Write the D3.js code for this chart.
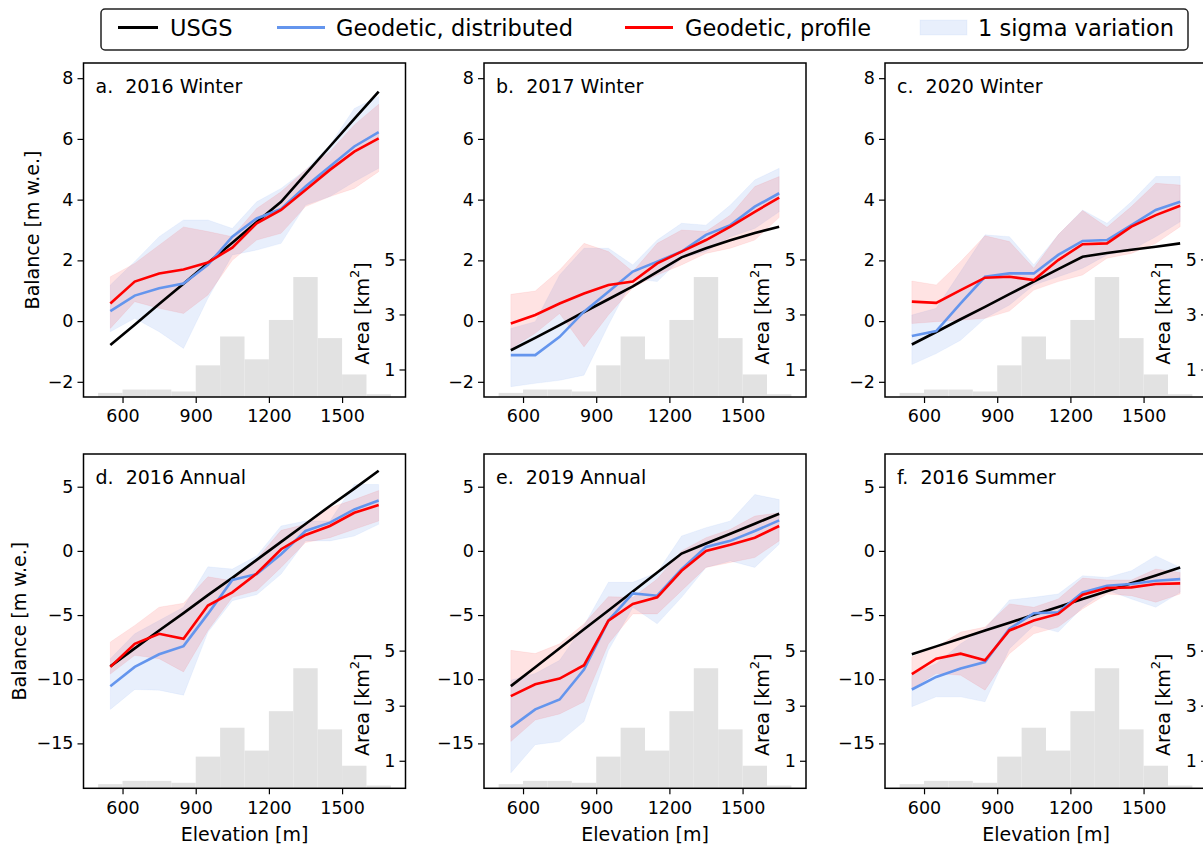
<!DOCTYPE html>
<html><head><meta charset="utf-8">
<script src="https://cdn.jsdelivr.net/npm/d3@7"></script>
<style>
body{margin:0;background:#fff}
text{font-family:"DejaVu Sans",sans-serif;fill:#000}
</style>
</head><body>
<svg id="c" width="1203" height="846"></svg>
<script>
// ---------- data ----------
const elevations = [550,650,750,850,950,1050,1150,1250,1350,1450,1550,1650];
const histEdges = [500,600,700,800,900,1000,1100,1200,1300,1400,1500,1600,1700];
const histArea = [0.15,0.27,0.27,0.2,1.15,2.2,1.37,2.8,4.36,2.14,0.82,0.1];
const topTicks = [-2,0,2,4,6,8];
const bottomTicks = [-15,-10,-5,0,5];
const xTicks = [600,900,1200,1500];
const areaTicks = [1,3,5];
const titles = ["a.  2016 Winter","b.  2017 Winter","c.  2020 Winter","d.  2016 Annual","e.  2019 Annual","f.  2016 Summer"];
const legendLabels = ["USGS","Geodetic, distributed","Geodetic, profile","1 sigma variation"];

const usgsA = [-0.79,-0.12,0.56,1.23,1.91,2.58,3.26,3.93,4.84,5.75,6.66,7.56];
const distA = [0.33,0.84,1.08,1.24,1.85,2.78,3.38,3.69,4.43,5.09,5.75,6.22];
const profA = [0.58,1.30,1.57,1.70,1.93,2.42,3.22,3.66,4.32,4.98,5.58,6.02];
const profHiA = [1.46,1.9,2.5,3.1,2.95,2.78,3.71,4.26,4.98,5.58,6.46,7.14];
const profLoA = [-0.24,0.64,0.42,0.25,0.86,2.0,2.67,2.89,3.77,4.1,4.37,4.92];
const distHiA = [1.19,1.96,2.78,3.33,3.33,3.05,3.93,4.37,4.98,5.8,7.0,7.4];
const distLoA = [-0.35,0.09,-0.35,-0.9,0.75,2.18,2.34,2.56,3.82,4.1,4.59,5.03];

const usgsB = [-0.96,-0.55,-0.13,0.30,0.72,1.14,1.62,2.1,2.4,2.66,2.9,3.11];
const distB = [-1.12,-1.12,-0.52,0.31,0.97,1.63,1.96,2.29,2.84,3.16,3.77,4.21];
const profB = [-0.08,0.2,0.58,0.91,1.19,1.3,1.9,2.29,2.67,3.11,3.6,4.07];
const profHiB = [0.88,0.99,1.68,2.56,2.29,1.63,2.56,3.0,2.95,3.49,4.43,4.76];
const profLoB = [-0.9,-0.4,0.25,-0.85,0.2,1.1,1.52,1.85,2.23,2.4,2.67,3.41];
const distHiB = [-0.24,-0.02,1.52,2.4,2.4,1.85,2.67,3.22,3.16,3.82,4.65,5.03];
const distLoB = [-2.16,-2.05,-1.95,-1.78,-0.13,1.4,1.3,2.07,2.29,2.78,3.05,3.6];

const usgsC = [-0.77,-0.36,0.06,0.47,0.89,1.3,1.71,2.12,2.24,2.35,2.45,2.56];
const distC = [-0.49,-0.33,0.58,1.46,1.57,1.57,2.18,2.64,2.67,3.16,3.66,3.93];
const profC = [0.64,0.6,1.02,1.43,1.46,1.35,2.01,2.53,2.56,3.11,3.49,3.8];
const profHiC = [1.32,1.19,1.96,2.81,2.62,1.74,2.84,3.64,3.09,3.77,4.54,4.48];
const profLoC = [-0.08,-0.02,0.03,0.09,0.33,1.02,1.3,1.52,2.07,2.23,2.56,3.11];
const distHiC = [0.2,0.42,1.63,2.84,2.78,1.85,2.84,3.66,3.22,3.93,4.76,4.76];
const distLoC = [-1.43,-1.07,-0.63,0.09,0.53,1.19,1.46,1.74,2.18,2.34,2.78,3.27];

const usgsD = [-9.0,-7.6,-6.2,-4.85,-3.45,-2.1,-0.7,0.7,2.1,3.5,4.85,6.25];
const distD = [-10.54,-9.04,-8.06,-7.42,-4.91,-2.27,-1.81,-0.26,1.55,2.2,3.23,3.93];
const profD = [-9.04,-7.24,-6.46,-6.85,-4.26,-3.23,-1.76,0.13,1.24,1.94,2.97,3.57];
const profHiD = [-7.1,-5.81,-4.39,-4.08,-2.02,-2.33,-0.65,1.6,2.07,3.36,4.0,4.7];
const profLoD = [-9.6,-8.14,-8.4,-9.43,-6.2,-3.62,-3.1,-1.29,0.65,1.03,1.68,2.33];
const distHiD = [-8.4,-6.46,-5.43,-4.39,-1.24,-1.42,-0.39,1.94,2.33,2.33,5.17,5.17];
const distLoD = [-12.35,-10.8,-10.85,-11.24,-6.33,-3.88,-3.41,-1.81,0.78,0.78,1.16,2.07];

const usgsE = [-10.54,-9.06,-7.59,-6.11,-4.64,-3.16,-1.69,-0.21,0.57,1.34,2.12,2.89];
const distE = [-13.75,-12.35,-11.58,-9.25,-5.43,-3.31,-3.49,-1.42,0.31,0.78,1.55,2.38];
const profE = [-11.32,-10.39,-9.95,-8.91,-5.43,-4.13,-3.62,-1.55,0,0.47,1.03,1.94];
const profHiE = [-7.75,-8.0,-7.24,-5.68,-3.57,-3.62,-2.2,0,1.03,1.68,2.71,2.97];
const profLoE = [-14.86,-13.18,-12.71,-11.76,-7.24,-4.91,-4.91,-3.1,-1.29,-0.9,-0.52,0.78];
const distHiE = [-10.08,-9.56,-8.53,-5.81,-2.45,-2.45,-1.68,1.16,1.81,2.33,4.39,4.0];
const distLoE = [-17.3,-15.1,-14.86,-13.3,-7.75,-4.39,-5.68,-3.62,-1.29,-0.78,-1.29,0.52];

const usgsF = [-8.06,-7.44,-6.83,-6.21,-5.6,-4.98,-4.37,-3.75,-3.14,-2.52,-1.91,-1.29];
const distF = [-10.8,-9.82,-9.17,-8.66,-6.07,-4.86,-4.78,-3.23,-2.71,-2.58,-2.33,-2.2];
const profF = [-9.61,-8.4,-8.01,-8.53,-6.2,-5.43,-4.91,-3.41,-2.89,-2.84,-2.58,-2.53];
const profHiF = [-8.27,-7.49,-6.33,-5.94,-4.13,-4.39,-3.75,-2.12,-2.27,-2.27,-1.42,-1.68];
const profLoF = [-10.72,-9.56,-9.69,-10.85,-8.01,-6.46,-5.94,-4.52,-3.36,-3.49,-4.0,-3.36];
const distHiF = [-9.56,-8.79,-7.24,-6.07,-3.82,-3.62,-3.36,-1.94,-2.07,-1.55,-0.39,-1.29];
const distLoF = [-12.14,-11.37,-11.37,-11.76,-7.62,-5.81,-6.33,-4.39,-3.05,-3.75,-4.39,-3.23];

// ---------- layout ----------
const panels = [
  {usgs:usgsA,dist:distA,prof:profA,pHi:profHiA,pLo:profLoA,dHi:distHiA,dLo:distLoA},
  {usgs:usgsB,dist:distB,prof:profB,pHi:profHiB,pLo:profLoB,dHi:distHiB,dLo:distLoB},
  {usgs:usgsC,dist:distC,prof:profC,pHi:profHiC,pLo:profLoC,dHi:distHiC,dLo:distLoC},
  {usgs:usgsD,dist:distD,prof:profD,pHi:profHiD,pLo:profLoD,dHi:distHiD,dLo:distLoD},
  {usgs:usgsE,dist:distE,prof:profE,pHi:profHiE,pLo:profLoE,dHi:distHiE,dLo:distLoE},
  {usgs:usgsF,dist:distF,prof:profF,pHi:profHiF,pLo:profLoF,dHi:distHiF,dLo:distLoF}
];
const lefts = [83.5, 484, 885];
const panelW = 322;
const rows = [{top:63,bottom:397,dom:[-2.5,8.5],ticks:topTicks},{top:454,bottom:788.3,dom:[-18.5,7.55],ticks:bottomTicks}];
const C = {usgs:"#000000", dist:"cornflowerblue", prof:"#ff0000", hist:"#e2e2e2"};

const svg = d3.select("#c");

panels.forEach((p,i)=>{
  const r = rows[Math.floor(i/3)], col = i%3;
  const L = lefts[col], R = L + panelW;
  const x = d3.scaleLinear().domain([440,1760]).range([L,R]);
  const y = d3.scaleLinear().domain(r.dom).range([r.bottom,r.top]);
  const mid = (r.top+r.bottom)/2;
  const a = d3.scaleLinear().domain([0,6.07]).range([r.bottom,mid]);
  const g = svg.append("g");

  // histogram
  g.selectAll("rect.h").data(histArea).join("rect")
    .attr("x",(d,k)=>x(histEdges[k])).attr("width",(d,k)=>x(histEdges[k+1])-x(histEdges[k]))
    .attr("y",d=>a(d)).attr("height",d=>a(0)-a(d)).attr("fill",C.hist);

  // bands
  const band = (lo,hi)=>d3.area().x((d,k)=>x(elevations[k])).y0((d,k)=>y(lo[k])).y1((d,k)=>y(hi[k]))(elevations);
  g.append("path").attr("d",band(p.dLo,p.dHi)).attr("fill",C.dist).attr("fill-opacity",0.15)
    .attr("stroke",C.dist).attr("stroke-opacity",0.08);
  g.append("path").attr("d",band(p.pLo,p.pHi)).attr("fill",C.prof).attr("fill-opacity",0.11)
    .attr("stroke",C.prof).attr("stroke-opacity",0.06);

  const line = vals=>d3.line().x((d,k)=>x(elevations[k])).y(d=>y(d))(vals);
  g.append("path").attr("d",line(p.usgs)).attr("fill","none").attr("stroke",C.usgs).attr("stroke-width",2.6);
  g.append("path").attr("d",line(p.dist)).attr("fill","none").attr("stroke",C.dist).attr("stroke-width",2.6);
  g.append("path").attr("d",line(p.prof)).attr("fill","none").attr("stroke",C.prof).attr("stroke-width",2.6);

  // frame
  g.append("rect").attr("x",L).attr("y",r.top).attr("width",panelW).attr("height",r.bottom-r.top)
    .attr("fill","none").attr("stroke","#000").attr("stroke-width",1.5);

  // y axis
  const ya = g.append("g").attr("transform",`translate(${L},0)`)
    .call(d3.axisLeft(y).tickValues(r.ticks).tickSize(6).tickPadding(4));
  ya.select(".domain").remove();
  ya.selectAll("text").style("font-size","17.5px").style("font-family","DejaVu Sans");
  ya.selectAll("line").attr("stroke-width",1.2);

  // x axis
  const xa = g.append("g").attr("transform",`translate(0,${r.bottom})`)
    .call(d3.axisBottom(x).tickValues(xTicks).tickSize(6).tickPadding(7).tickFormat(d3.format("d")));
  xa.select(".domain").remove();
  xa.selectAll("text").style("font-size","17.5px").style("font-family","DejaVu Sans");
  xa.selectAll("line").attr("stroke-width",1.2);

  // area axis (inside, right spine)
  const aa = g.append("g").attr("transform",`translate(${R},0)`)
    .call(d3.axisLeft(a).tickValues(areaTicks).tickSize(6).tickPadding(4).tickFormat(d3.format("d")));
  aa.select(".domain").remove();
  aa.selectAll("text").style("font-size","17.5px").style("font-family","DejaVu Sans");
  aa.selectAll("line").attr("stroke-width",1.2);

  const al = g.append("text").attr("transform",`translate(${R-44},${(r.bottom+mid)/2}) rotate(-90)`)
    .attr("text-anchor","middle").attr("dominant-baseline","central").style("font-size","19px");
  al.append("tspan").text("Area [km");
  al.append("tspan").text("2").attr("baseline-shift","super").style("font-size","13px");
  al.append("tspan").text("]");

  // title
  g.append("text").attr("x",L+12).attr("y",r.top+30).style("font-size","19px").style("white-space","pre")
    .text(titles[i]);

  if (col===0) {
    const lx = i<3 ? 32 : 19;
    g.append("text").attr("transform",`translate(${lx},${mid}) rotate(-90)`)
      .attr("text-anchor","middle").attr("dominant-baseline","central").style("font-size","19px")
      .text("Balance [m w.e.]");
  }
  if (i>=3) {
    g.append("text").attr("x",(L+R)/2).attr("y",841).attr("text-anchor","middle").style("font-size","19px")
      .text("Elevation [m]");
  }
});

// ---------- legend ----------
const lg = svg.append("g");
lg.append("rect").attr("x",101).attr("y",9).attr("width",1087).attr("height",41).attr("rx",4)
  .attr("fill","#fff").attr("stroke","#222").attr("stroke-width",1.5);
const legX = [110, 277, 625, 920];
const legT = [170, 336, 685, 978];
const legCol = [C.usgs, C.dist, C.prof];
legendLabels.forEach((t,k)=>{
  if (k<3) {
    lg.append("line").attr("x1",legX[k]+(k===0?8:0)).attr("x2",legX[k]+48).attr("y1",27.5).attr("y2",27.5)
      .attr("stroke",legCol[k]).attr("stroke-width",2.8);
  } else {
    lg.append("rect").attr("x",legX[k]).attr("y",20).attr("width",47).attr("height",15)
      .attr("fill",C.dist).attr("fill-opacity",0.15).attr("stroke",C.dist).attr("stroke-opacity",0.08);
  }
  lg.append("text").attr("x",legT[k]).attr("y",35.5).style("font-size","22.5px").text(t);
});
</script>
</body></html>
